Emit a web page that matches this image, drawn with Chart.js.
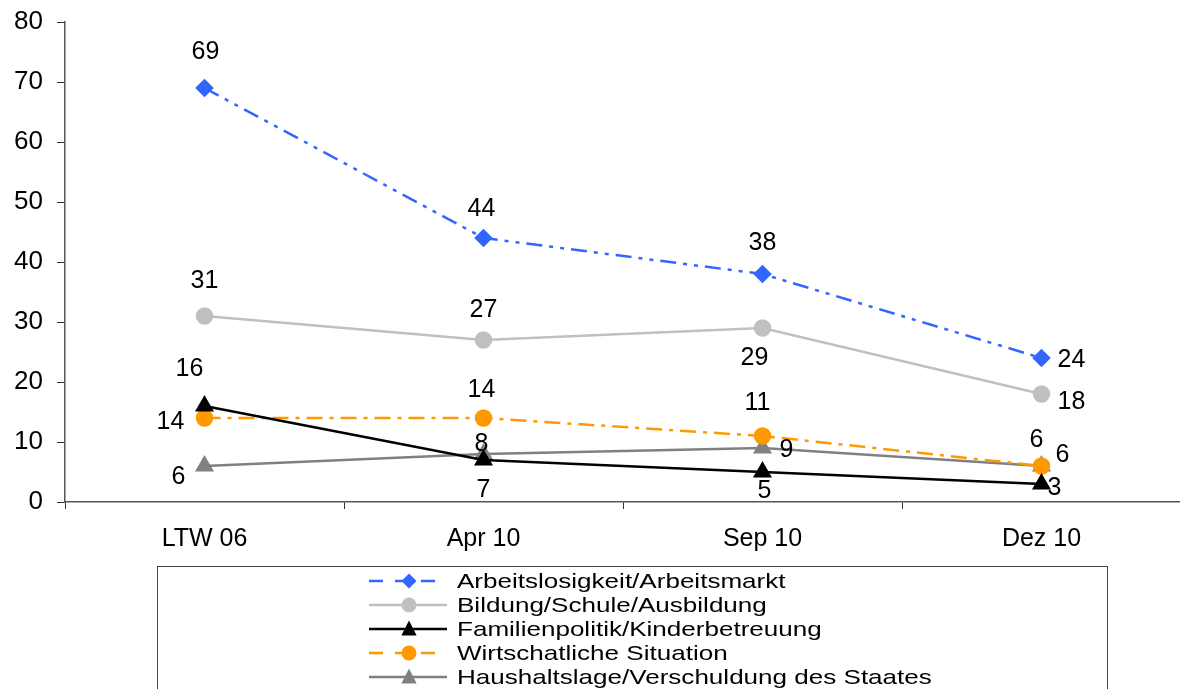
<!DOCTYPE html>
<html>
<head>
<meta charset="utf-8">
<script src="https://cdn.jsdelivr.net/npm/chart.js@4"></script>
<style>
  html, body { margin: 0; padding: 0; background: #fff; overflow: hidden; }
  #wrap { width: 1192px; height: 689px; position: relative; }
</style>
</head>
<body>
<div id="wrap"><canvas id="issuesChart"></canvas></div>
<script>
'use strict';

// Data
const categories = ['LTW 06', 'Apr 10', 'Sep 10', 'Dez 10'];
const seriesNames = [
  'Arbeitslosigkeit/Arbeitsmarkt',
  'Bildung/Schule/Ausbildung',
  'Familienpolitik/Kinderbetreuung',
  'Wirtschatliche Situation',
  'Haushaltslage/Verschuldung des Staates'
];
const arbeitsmarkt = [69, 44, 38, 24];
const bildung = [31, 27, 29, 18];
const familie = [16, 7, 5, 3];
const wirtschaft = [14, 14, 11, 6];
const haushalt = [6, 8, 9, 6];
const yTicks = [0, 10, 20, 30, 40, 50, 60, 70, 80];

const FONT = '"Liberation Sans", Arial, sans-serif';

// value labels drawn next to each point, offsets are per point
const valueLabels = {
  id: 'valueLabels',
  afterDatasetsDraw(chart) {
    const ctx = chart.ctx;
    ctx.save();
    ctx.font = '25px ' + FONT;
    ctx.fillStyle = '#000';
    ctx.textAlign = 'center';
    ctx.textBaseline = 'middle';
    chart.data.datasets.forEach((ds, i) => {
      const meta = chart.getDatasetMeta(i);
      meta.data.forEach((pt, j) => {
        const off = ds.labelOffsets[j];
        ctx.fillText(String(ds.data[j]), pt.x + off[0], pt.y + off[1] + 1);
      });
    });
    ctx.restore();
  }
};

// legend box under the chart, line + marker like the original
const boxLegend = {
  id: 'boxLegend',
  afterDraw(chart) {
    const ctx = chart.ctx;
    ctx.save();
    ctx.strokeStyle = '#444';
    ctx.lineWidth = 1;
    ctx.strokeRect(157.5, 566.5, 950, 140);
    ctx.font = '21px ' + FONT;
    ctx.textAlign = 'left';
    ctx.textBaseline = 'alphabetic';
    chart.data.datasets.forEach((ds, i) => {
      const y = 581 + i * 24;
      ctx.strokeStyle = ds.borderColor;
      ctx.lineWidth = ds.borderWidth;
      ctx.setLineDash(ds.legendDash);
      ctx.beginPath();
      ctx.moveTo(369, y);
      ctx.lineTo(447, y);
      ctx.stroke();
      ctx.setLineDash([]);
      ctx.fillStyle = ds.pointBackgroundColor;
      const r = ds.pointRadius;
      const mx = 409;
      ctx.beginPath();
      if (ds.pointStyle === 'rectRot') {
        ctx.moveTo(mx, y - r); ctx.lineTo(mx + r, y); ctx.lineTo(mx, y + r); ctx.lineTo(mx - r, y);
      } else if (ds.pointStyle === 'triangle') {
        ctx.moveTo(mx, y - r); ctx.lineTo(mx + r * 0.9, y + r * 0.75); ctx.lineTo(mx - r * 0.9, y + r * 0.75);
      } else {
        ctx.arc(mx, y, r, 0, Math.PI * 2);
      }
      ctx.closePath();
      ctx.fill();
      ctx.fillStyle = '#000';
      ctx.save();
      ctx.translate(457, y + 7);
      ctx.scale(1.24, 1);
      ctx.fillText(ds.label, 0, 0);
      ctx.restore();
    });
    ctx.restore();
  }
};

function series(label, data, color, style, radius, dash, legendDash, offsets) {
  return {
    label: label,
    data: data,
    borderColor: color,
    backgroundColor: color,
    pointBackgroundColor: color,
    pointBorderColor: color,
    pointStyle: style,
    pointRadius: radius,
    pointHoverRadius: radius,
    borderWidth: 2.5,
    borderDash: dash,
    legendDash: legendDash,
    labelOffsets: offsets,
    tension: 0,
    fill: false
  };
}

const ctx = document.getElementById('issuesChart').getContext('2d');
new Chart(ctx, {
  type: 'line',
  data: {
    labels: categories,
    datasets: [
      series(seriesNames[0], arbeitsmarkt, '#3366FF', 'rectRot', 7.5, [16, 7, 4, 7, 4, 7], [14, 12],
        [[1, -37], [-2, -30], [0, -32], [30, 1]]),
      series(seriesNames[1], bildung, '#C0C0C0', 'circle', 7.5, [], [],
        [[0, -36], [0, -31], [-8, 29], [30, 7]]),
      series(seriesNames[2], familie, '#000000', 'triangle', 8.5, [], [],
        [[-15, -38], [0, 29], [2, 18], [13, 3]]),
      series(seriesNames[3], wirtschaft, '#FF9900', 'circle', 7.5, [16, 7, 4, 7], [14, 12],
        [[-34, 3], [-2, -29], [-5, -34], [-5, -27]]),
      series(seriesNames[4], haushalt, '#808080', 'triangle', 8.5, [], [],
        [[-26, 10], [-2, -11], [24, 1], [21, -12]])
    ]
  },
  options: {
    responsive: true,
    maintainAspectRatio: false,
    animation: false,
    layout: { padding: { top: 22, right: 0, left: 0, bottom: 0 } },
    plugins: {
      legend: { display: false },
      tooltip: { enabled: false }
    },
    scales: {
      x: {
        offset: true,
        afterFit: (scale) => { scale.height = 187; scale.paddingLeft = 0; scale.paddingRight = 0; },
        grid: { offset: true, drawOnChartArea: false, drawTicks: true, tickLength: 7, color: '#333' },
        border: { display: true, color: '#555', width: 1.5 },
        ticks: { color: '#000', font: { family: FONT, size: 25 }, padding: 15, maxRotation: 0 }
      },
      y: {
        min: 0,
        max: 80,
        afterFit: (scale) => { scale.width = 65; scale.paddingTop = 0; scale.paddingBottom = 0; },
        afterBuildTicks: (scale) => { scale.ticks = yTicks.map(v => ({ value: v })); },
        grid: { drawOnChartArea: false, drawTicks: true, tickLength: 8, color: '#333' },
        border: { display: true, color: '#555', width: 1.5 },
        ticks: { color: '#000', font: { family: FONT, size: 26 }, padding: 14 }
      }
    }
  },
  plugins: [valueLabels, boxLegend]
});
</script>
</body>
</html>
